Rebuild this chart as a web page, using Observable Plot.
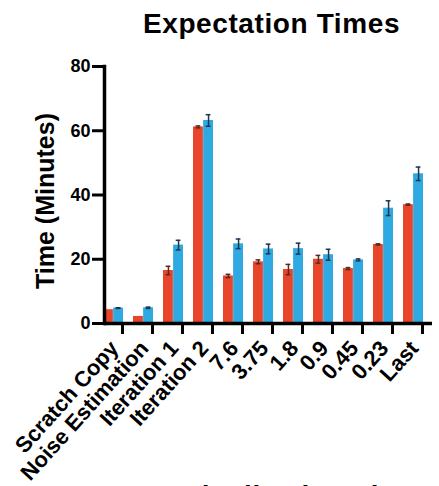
<!DOCTYPE html>
<html>
<head>
<meta charset="utf-8">
<script src="https://cdn.jsdelivr.net/npm/d3@7"></script>
<script src="https://cdn.jsdelivr.net/npm/@observablehq/plot@0.6"></script>
<style>
  body { margin: 0; background: #fff; }
  #chart svg { font-family: "Liberation Sans", Arial, sans-serif; font-weight: bold; }
</style>
</head>
<body>
<div id="chart"></div>
<script>
const title = "Expectation Times";
const nextTitle = "Marginalization Times";
const yLabel = "Time (Minutes)";
const categories = ["Scratch Copy", "Noise Estimation", "Iteration 1", "Iteration 2", "7.6", "3.75", "1.8", "0.9", "0.45", "0.23", "Last"];
const redMeans = [4.3, 2.2, 16.5, 61.2, 14.8, 19.2, 16.8, 20.0, 17.1, 24.6, 37.0];
const redErr   = [0,   0,   1.3,  0.3,  0.5,  0.6,  1.6,  1.2,  0.3,  0.2,  0.2];
const blueMeans = [4.8, 4.9, 24.4, 63.2, 24.8, 23.2, 23.3, 21.4, 19.8, 35.9, 46.6];
const blueErr   = [0.1, 0.2, 1.5,  1.8,  1.5,  1.5,  1.7,  1.7,  0.3,  2.3,  2.1];
const yTicks = [0, 20, 40, 60, 80];

const red = "#e8452a", blue = "#2ea9e1";
const redErrColor = "#5a2a20", blueErrColor = "#1f3550";

const redRows = categories.map((c, i) => ({cat: c, v: redMeans[i], lo: redMeans[i] - redErr[i], hi: redMeans[i] + redErr[i]}));
const blueRows = categories.map((c, i) => ({cat: c, v: blueMeans[i], lo: blueMeans[i] - blueErr[i], hi: blueMeans[i] + blueErr[i]}));
const redE = redRows.filter(d => d.hi > d.lo);
const blueE = blueRows.filter(d => d.hi > d.lo);

const W = 439, H = 486;
const xRange = [99, 426];
const padInner = 0.34;
const bw = (xRange[1] - xRange[0]) / (categories.length - padInner) * (1 - padInner);
const half = bw / 2;
const capW = 5;
const redCap = {insetLeft: half / 2 - capW / 2, insetRight: half * 1.5 - capW / 2, stroke: redErrColor, strokeWidth: 1.5};
const blueCap = {insetLeft: half * 1.5 - capW / 2, insetRight: half / 2 - capW / 2, stroke: blueErrColor, strokeWidth: 1.5};

const chart = Plot.plot({
  width: W,
  height: H,
  marginTop: 66,
  marginBottom: 163,
  marginLeft: 104,
  marginRight: 7,
  x: {type: "band", domain: categories, range: xRange, paddingInner: padInner, paddingOuter: 0},
  y: {domain: [0, 80]},
  marks: [
    Plot.barY(redRows, {x: "cat", y: "v", fill: red, insetRight: half, insetLeft: 0}),
    Plot.barY(blueRows, {x: "cat", y: "v", fill: blue, insetLeft: half, insetRight: 0}),
    Plot.ruleX(redE, {x: "cat", y1: "lo", y2: "hi", dx: -half / 2, stroke: redErrColor, strokeWidth: 1.5}),
    Plot.tickY(redE, {x: "cat", y: "hi", ...redCap}),
    Plot.tickY(redE, {x: "cat", y: "lo", ...redCap}),
    Plot.ruleX(blueE, {x: "cat", y1: "lo", y2: "hi", dx: half / 2, stroke: blueErrColor, strokeWidth: 1.5}),
    Plot.tickY(blueE, {x: "cat", y: "hi", ...blueCap}),
    Plot.tickY(blueE, {x: "cat", y: "lo", ...blueCap}),
    Plot.frame({anchor: "left", strokeWidth: 3.5, stroke: "#000"}),
    Plot.ruleY([0], {strokeWidth: 3.5, stroke: "#000"}),
    Plot.axisY({ticks: yTicks, tickSize: 12, tickPadding: 2, strokeWidth: 3, fontSize: 18, label: null, fill: "#000"}),
    Plot.axisX({tickSize: 11, text: null, dx: 9, strokeWidth: 3, label: null}),
    Plot.axisX({tickSize: 0, tickPadding: 21, tickRotate: -48, dx: 1, fontSize: 22, label: null, fill: "#000"}),
    Plot.text([title], {text: d => d, frameAnchor: "top", lineAnchor: "bottom", dy: -33.5, dx: 3, fontSize: 28, fontWeight: "bold", fill: "#000"}),
    Plot.text([yLabel], {text: d => d, frameAnchor: "left", textAnchor: "middle", rotate: -90, lineAnchor: "bottom", dx: -51, dy: 6, fontSize: 25, fontWeight: "bold", fill: "#000"}),
    Plot.text([nextTitle], {text: d => d, frameAnchor: "bottom-left", textAnchor: "start", lineAnchor: "bottom", dx: 28, dy: 181, fontSize: 28, fontWeight: "bold", fill: "#000"})
  ]
});
chart.querySelectorAll("text").forEach(t => {
  if (t.textContent === title || t.textContent === nextTitle) t.style.letterSpacing = "0.6px";
});
document.getElementById("chart").appendChild(chart);
</script>
</body>
</html>
